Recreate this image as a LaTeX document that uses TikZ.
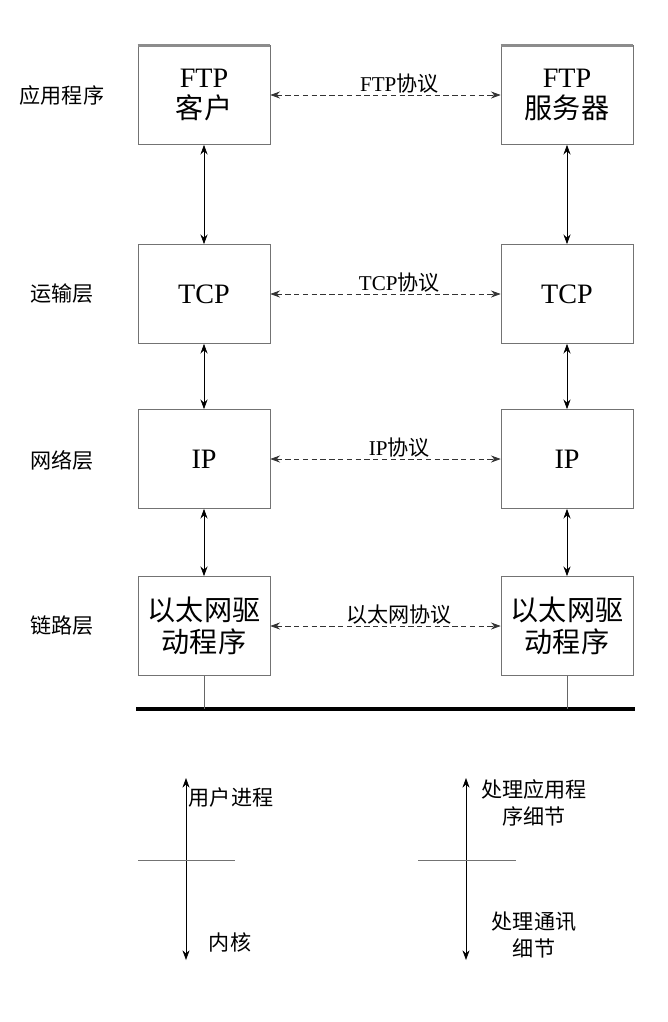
\documentclass[tikz,border=0pt]{standalone}
\usepackage{fontspec}
\setmainfont{Liberation Serif}
\newfontfamily\cjk{Noto Sans CJK SC}
\usetikzlibrary{arrows.meta}
\tikzset{
  layerbox/.style={draw=black!55, minimum width=2.64cm, minimum height=1.98cm,
    inner sep=0pt, align=center, font=\fontsize{16}{18}\selectfont},
  layername/.style={font=\cjk\fontsize{12}{15.3}\selectfont, align=center},
  protoname/.style={font=\fontsize{12}{15}\selectfont, above, inner sep=1pt, pos=0.56},
  protoline/.style={dash pattern=on 3pt off 2pt, draw=black!80,
    {Stealth[length=5.5pt,width=4pt]}-{Stealth[length=5.5pt,width=4pt]}},
  updown/.style={{Stealth[length=5.5pt,width=4pt]}-{Stealth[length=5.5pt,width=4pt]}},
}
\begin{document}
\begin{tikzpicture}[x=0.02cm,y=-0.02cm]
  \useasboundingbox (0,0) rectangle (668,1022);
  % layer names
  \node[layername] (lapp) at (62,95) {应用程序};
  \node[layername] (ltrans) at (62,294) {运输层};
  \node[layername] (lnet) at (62,460) {网络层};
  \node[layername] (llink) at (62,626) {链路层};
  % client side
  \node[layerbox] (ftpc) at (204,95) {FTP\\{\cjk 客户}};
  \node[layerbox] (tcpc) at (204,294) {TCP};
  \node[layerbox] (ipc) at (204,459) {IP};
  \node[layerbox] (ethc) at (204,626) {\cjk 以太网驱\\\cjk 动程序};
  % server side
  \node[layerbox] (ftps) at (567,95) {FTP\\{\cjk 服务器}};
  \node[layerbox] (tcps) at (567,294) {TCP};
  \node[layerbox] (ips) at (567,459) {IP};
  \node[layerbox] (eths) at (567,626) {\cjk 以太网驱\\\cjk 动程序};
  % heavier top edge of the application boxes
  \draw[black!45, line width=1.6pt] (ftpc.north west) -- (ftpc.north east);
  \draw[black!45, line width=1.6pt] (ftps.north west) -- (ftps.north east);
  % peer protocols
  \draw[protoline] (ftpc) -- node[protoname] {FTP{\cjk 协议}} (ftps);
  \draw[protoline] (tcpc) -- node[protoname] {TCP{\cjk 协议}} (tcps);
  \draw[protoline] (ipc) -- node[protoname] {IP{\cjk 协议}} (ips);
  \draw[protoline] (ethc) -- node[protoname] {\cjk 以太网协议} (eths);
  % up and down the stack
  \draw[updown] (ftpc) -- (tcpc);
  \draw[updown] (tcpc) -- (ipc);
  \draw[updown] (ipc) -- (ethc);
  \draw[updown] (ftps) -- (tcps);
  \draw[updown] (tcps) -- (ips);
  \draw[updown] (ips) -- (eths);
  % ethernet
  \coordinate (busl) at (136,709);
  \coordinate (busr) at (635,709);
  \draw[line width=2.6pt] (busl) -- (busr);
  \draw[black!60] (ethc.south) -- (ethc.south |- busl);
  \draw[black!60] (eths.south) -- (eths.south |- busl);
  % user / kernel split
  \coordinate (utop) at (186,778);
  \coordinate (ubot) at (186,960);
  \coordinate (ucutl) at (138,860);
  \coordinate (ucutr) at (235,860);
  \draw[updown] (utop) -- (ubot);
  \draw[black!55] (ucutl) -- (ucutr);
  \node[layername] (user) at (231,797) {用户进程};
  \node[layername] (kern) at (230,942) {内核};
  \coordinate (stop) at (466,778);
  \coordinate (sbot) at (466,960);
  \coordinate (scutl) at (418,860);
  \coordinate (scutr) at (516,860);
  \draw[updown] (stop) -- (sbot);
  \draw[black!55] (scutl) -- (scutr);
  \node[layername] (apph) at (534,803) {处理应用程\\序细节};
  \node[layername] (comh) at (534,935) {处理通讯\\细节};
\end{tikzpicture}
\end{document}
